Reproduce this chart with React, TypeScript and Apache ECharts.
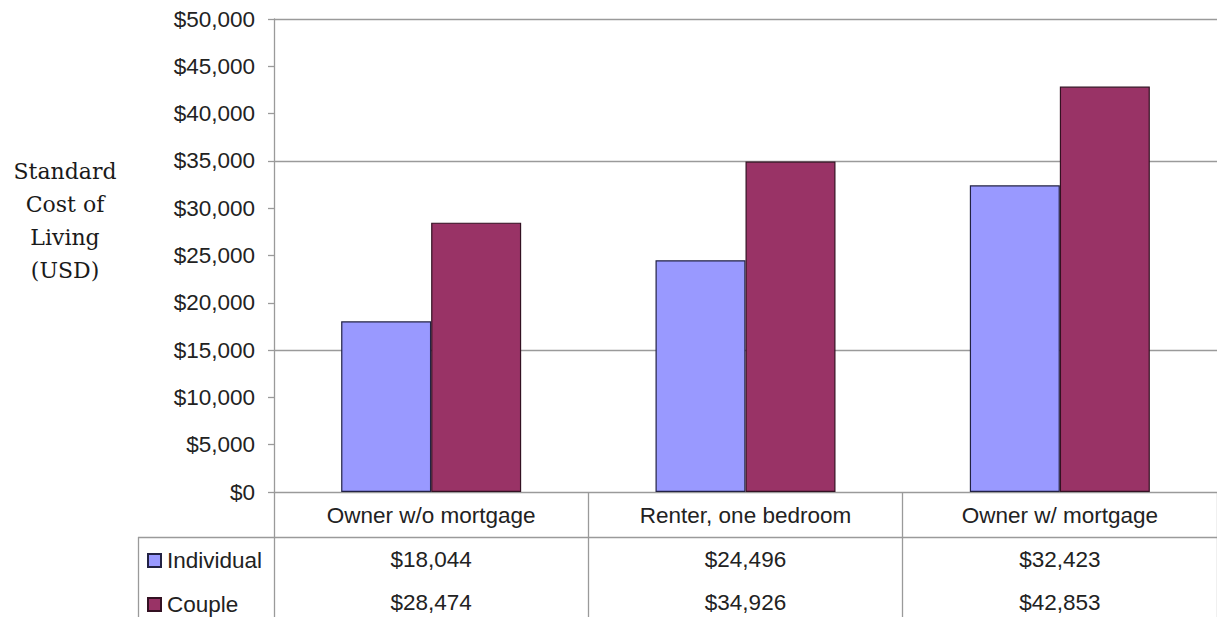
import React, { useEffect, useRef } from "react";
import * as echarts from "echarts";

const categories = ["Owner w/o mortgage", "Renter, one bedroom", "Owner w/ mortgage"];
const individualValues = [18044, 24496, 32423];
const coupleValues = [28474, 34926, 42853];
const seriesNames = ["Individual", "Couple"];
const gridlineValues = [15000, 35000, 50000];
const axisTitleLines = ["Standard", "Cost of", "Living", "(USD)"];

const fmt = (v: number) => "$" + v.toLocaleString("en-US");
const SANS = "'Liberation Sans', Arial, sans-serif";
const GRAY = "#9a9a9a";
const FS = 22.5;

export default function App() {
  const ref = useRef<HTMLDivElement>(null);
  useEffect(() => {
    const chart = echarts.init(ref.current!, null, { renderer: "svg" });
    chart.setOption({
      animation: false,
      backgroundColor: "#ffffff",
      grid: { left: 274, top: 19, width: 947, height: 473 },
      legend: {
        orient: "vertical",
        left: 147,
        top: 549,
        height: 68,
        padding: 0,
        icon: "rect",
        itemWidth: 13,
        itemHeight: 13,
        itemGap: 21,
        textStyle: { fontFamily: SANS, fontSize: FS, color: "#222", lineHeight: 22, padding: [0, 0, 0, 1] },
        data: seriesNames,
      },
      graphic: [
        {
          type: "text",
          x: 65,
          y: 155,
          style: {
            text: axisTitleLines.join("\n"),
            font: "22px 'DejaVu Serif', Georgia, serif",
            fill: "#1a1a1a",
            lineHeight: 33,
            align: "center",
            verticalAlign: "top",
          },
        },
        { type: "line", shape: { x1: 138, y1: 537.5, x2: 1217, y2: 537.5 }, style: { stroke: GRAY, lineWidth: 1.3 } },
        { type: "line", shape: { x1: 138.5, y1: 537, x2: 138.5, y2: 617 }, style: { stroke: GRAY, lineWidth: 1.3 } },
      ],
      xAxis: {
        type: "category",
        data: categories,
        axisLine: { show: true, lineStyle: { color: GRAY, width: 1.3 } },
        axisTick: { show: true, length: 130, lineStyle: { color: GRAY, width: 1.3 } },
        axisLabel: {
          interval: 0,
          margin: 1,
          formatter: (val: string, idx: number) =>
            `{c|${val}}\n{v|${fmt(individualValues[idx])}}\n{v|${fmt(coupleValues[idx])}}`,
          rich: {
            c: { fontFamily: SANS, fontSize: FS, color: "#222", lineHeight: 45 },
            v: { fontFamily: SANS, fontSize: FS, color: "#222", lineHeight: 43 },
          },
        },
      },
      yAxis: {
        type: "value",
        min: 0,
        max: 50000,
        interval: 5000,
        axisLine: { show: true, lineStyle: { color: GRAY, width: 1.3 } },
        axisTick: { show: true, length: 6, lineStyle: { color: GRAY, width: 1.3 } },
        splitLine: { show: false },
        axisLabel: { margin: 19, fontFamily: SANS, fontSize: FS, color: "#222", formatter: (v: number) => fmt(v) },
      },
      series: [
        {
          name: seriesNames[0],
          type: "bar",
          data: individualValues,
          barWidth: 90,
          barGap: "0%",
          itemStyle: { color: "#9999FF", borderColor: "#222244", borderWidth: 1.2 },
          markLine: {
            silent: true,
            symbol: "none",
            label: { show: false },
            lineStyle: { color: GRAY, type: "solid", width: 1.3 },
            data: gridlineValues.map((v) => ({ yAxis: v })),
            z: 0,
          },
          z: 3,
        },
        {
          name: seriesNames[1],
          type: "bar",
          data: coupleValues,
          barWidth: 90,
          barGap: "0%",
          itemStyle: { color: "#993366", borderColor: "#331122", borderWidth: 1.2 },
          z: 3,
        },
      ],
    });
    return () => chart.dispose();
  }, []);
  return <div ref={ref} style={{ position: "fixed", left: 0, top: 0, width: 1217, height: 617 }} />;
}
